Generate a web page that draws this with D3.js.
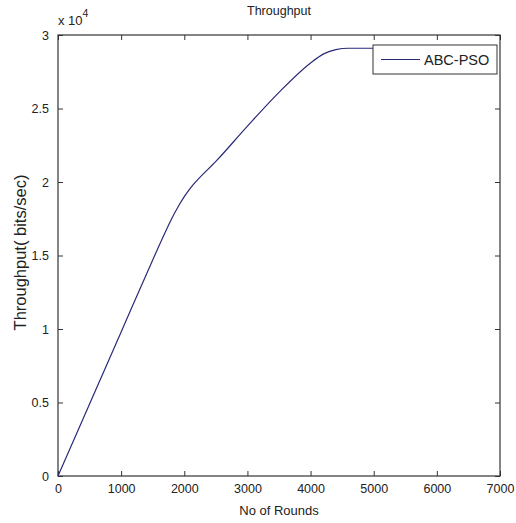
<!DOCTYPE html>
<html>
<head>
<meta charset="utf-8">
<script src="https://cdn.jsdelivr.net/npm/d3@7"></script>
<style>
  body { margin: 0; background: #fff; }
  svg text { font-family: "Liberation Sans", Arial, sans-serif; fill: #222; }
</style>
</head>
<body>
<svg width="516" height="523"></svg>
<script>
// Data
const rounds = [0, 500, 1000, 1500, 1700, 1800, 1900, 2000, 2100, 2200, 2500, 3000, 3500, 4000, 4200, 4400, 4600, 5000];
const throughput = [0, 4900, 9800, 14700, 16600, 17500, 18300, 19000, 19600, 20100, 21400, 23800, 26100, 28100, 28700, 29000, 29100, 29100];
const xTicks = [0, 1000, 2000, 3000, 4000, 5000, 6000, 7000];
const yTicks = [0, 5000, 10000, 15000, 20000, 25000, 30000];
const seriesName = "ABC-PSO";

const font = "Liberation Sans, Arial, sans-serif";

const svg = d3.select("svg"),
    margin = { top: 35, right: 16, bottom: 47, left: 58 },
    width = +svg.attr("width") - margin.left - margin.right,
    height = +svg.attr("height") - margin.top - margin.bottom;

const g = svg.append("g").attr("transform", `translate(${margin.left},${margin.top})`);

const x = d3.scaleLinear().domain([0, 7000]).range([0, width]);
const y = d3.scaleLinear().domain([0, 30000]).range([height, 0]);

// axes, ticks pointing inward like matlab
g.append("g")
    .attr("transform", `translate(0,${height})`)
    .call(d3.axisBottom(x).tickValues(xTicks).tickSizeInner(-5).tickSizeOuter(0).tickPadding(8).tickFormat(d3.format("d")));
g.append("g")
    .call(d3.axisTop(x).tickValues(xTicks).tickSizeInner(-5).tickSizeOuter(0).tickFormat(""));
g.append("g")
    .call(d3.axisLeft(y).tickValues(yTicks).tickSizeInner(-5).tickSizeOuter(0).tickPadding(9).tickFormat(d => d / 10000));
g.append("g")
    .attr("transform", `translate(${width},0)`)
    .call(d3.axisRight(y).tickValues(yTicks).tickSizeInner(-5).tickSizeOuter(0).tickFormat(""));

g.selectAll(".domain").remove();
g.selectAll(".tick line").attr("stroke", "#333");
g.selectAll(".tick text").attr("font-size", 12.5).attr("font-family", font).attr("fill", "#222");

g.append("rect")
    .attr("width", width)
    .attr("height", height)
    .attr("fill", "none")
    .attr("stroke", "#333")
    .attr("stroke-width", 1.2);

// the curve
const line = d3.line()
    .curve(d3.curveMonotoneX)
    .x((d, i) => x(rounds[i]))
    .y(d => y(d));

g.append("path")
    .datum(throughput)
    .attr("fill", "none")
    .attr("stroke", "#2a2a7a")
    .attr("stroke-width", 1.2)
    .attr("d", line);

// exponent label
const expo = g.append("text").attr("x", 0).attr("y", -10).attr("font-size", 13);
expo.append("tspan").text("x 10");
expo.append("tspan").attr("dy", -8).attr("font-size", 10.5).text("4");

// title and axis labels
g.append("text")
    .attr("x", width / 2)
    .attr("y", -20)
    .attr("text-anchor", "middle")
    .attr("font-size", 12.5)
    .text("Throughput");

g.append("text")
    .attr("x", width / 2)
    .attr("y", height + 39)
    .attr("text-anchor", "middle")
    .attr("font-size", 13)
    .text("No of Rounds");

g.append("text")
    .attr("transform", "rotate(-90)")
    .attr("x", -height / 2 + 3)
    .attr("y", -32)
    .attr("text-anchor", "middle")
    .attr("font-size", 16.5)
    .text("Throughput( bits/sec)");

// legend
const lg = g.append("g").attr("transform", `translate(${width - 127},10)`);
lg.append("rect")
    .attr("width", 124)
    .attr("height", 29)
    .attr("fill", "#fff")
    .attr("stroke", "#333");
lg.append("line")
    .attr("x1", 8).attr("x2", 47)
    .attr("y1", 14.5).attr("y2", 14.5)
    .attr("stroke", "#2a2a7a")
    .attr("stroke-width", 1.2);
lg.append("text")
    .attr("x", 51)
    .attr("y", 20)
    .attr("font-size", 14.5)
    .text(seriesName);
</script>
</body>
</html>
